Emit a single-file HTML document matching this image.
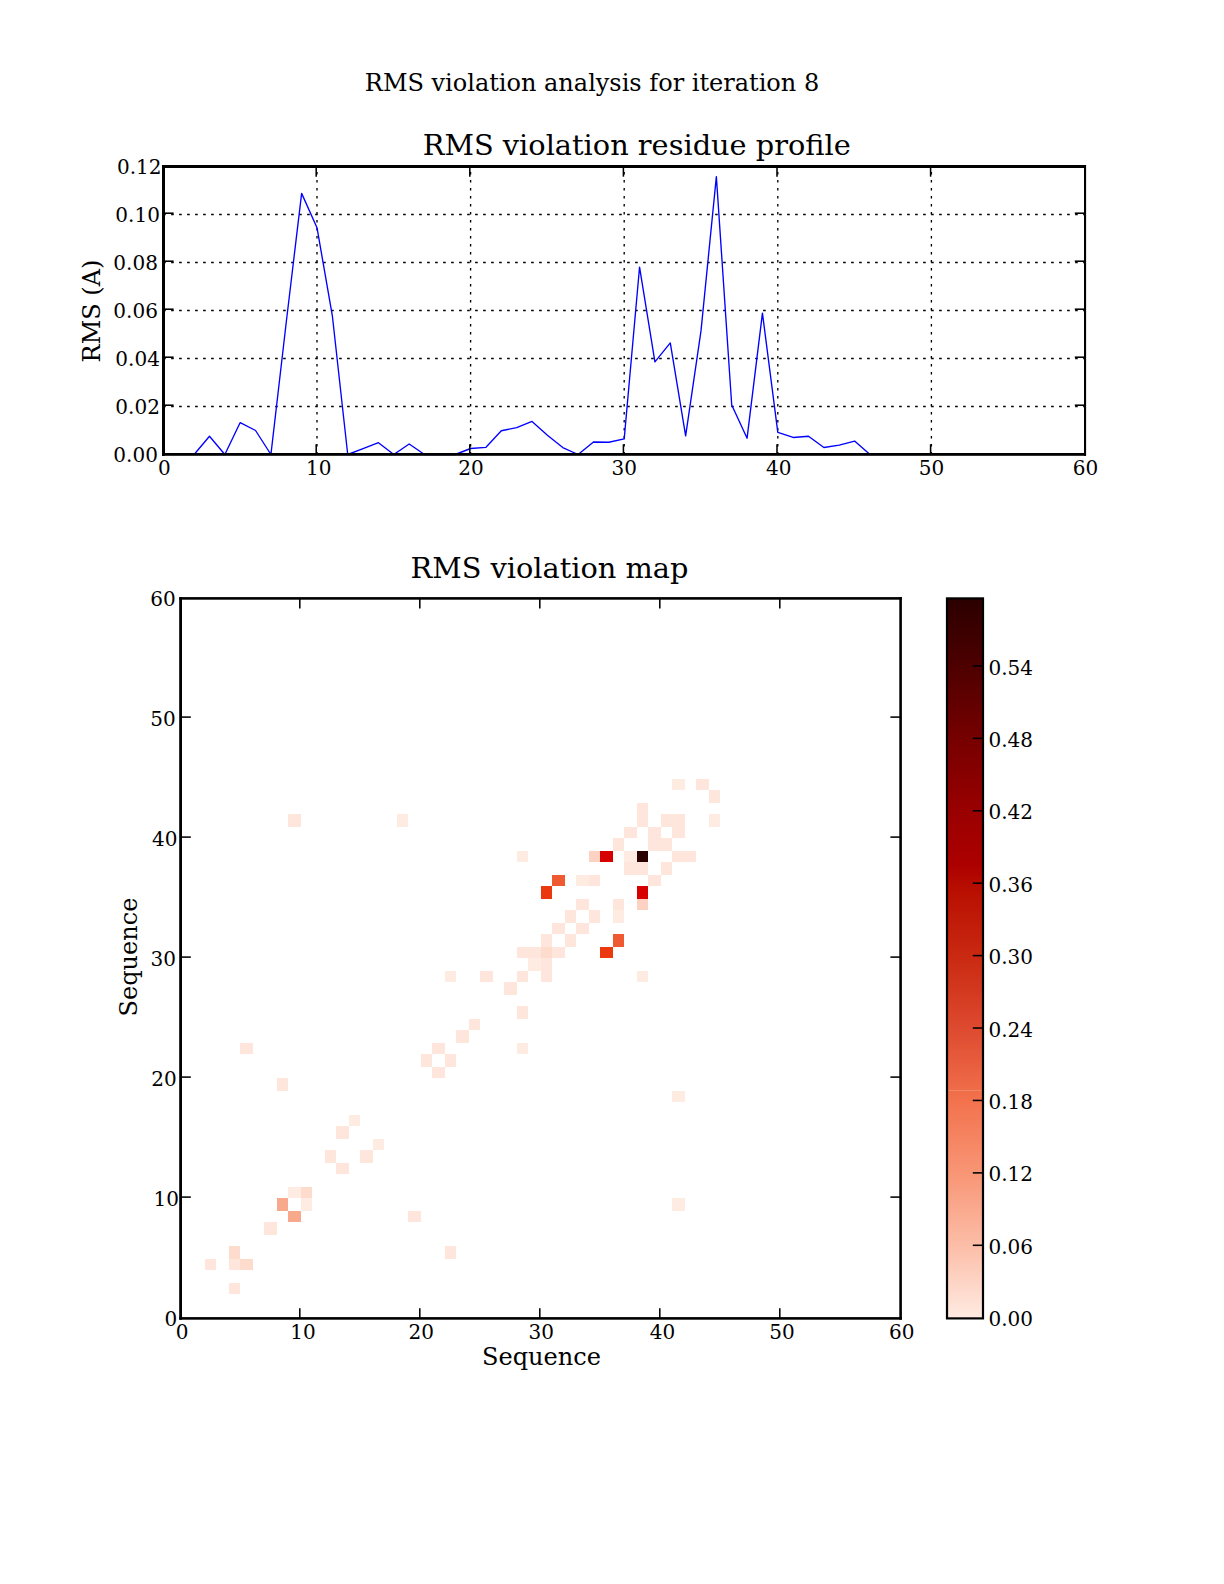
<!DOCTYPE html>
<html lang="en"><head><meta charset="utf-8"><title>RMS violation analysis for iteration 8</title>
<style>
html,body{margin:0;padding:0;background:#fff;}
body{width:1224px;height:1584px;overflow:hidden;}
svg{display:block;font-family:'DejaVu Serif','Liberation Serif',serif;fill:#000;}
svg text{fill:#000;}
</style></head><body>
<svg width="1224" height="1584" viewBox="0 0 1224 1584">
<rect width="1224" height="1584" fill="#fff"/>
<g id="top-axes">
<line x1="317.00" y1="454.5" x2="317.00" y2="166.5" stroke="#000" stroke-width="1.35" stroke-dasharray="2.6 5.4" stroke-dashoffset="0.05" fill="none"/>
<line x1="470.60" y1="454.5" x2="470.60" y2="166.5" stroke="#000" stroke-width="1.35" stroke-dasharray="2.6 5.4" stroke-dashoffset="0.05" fill="none"/>
<line x1="624.20" y1="454.5" x2="624.20" y2="166.5" stroke="#000" stroke-width="1.35" stroke-dasharray="2.6 5.4" stroke-dashoffset="0.05" fill="none"/>
<line x1="777.80" y1="454.5" x2="777.80" y2="166.5" stroke="#000" stroke-width="1.35" stroke-dasharray="2.6 5.4" stroke-dashoffset="0.05" fill="none"/>
<line x1="931.40" y1="454.5" x2="931.40" y2="166.5" stroke="#000" stroke-width="1.35" stroke-dasharray="2.6 5.4" stroke-dashoffset="0.05" fill="none"/>
<line x1="163.4" y1="406.50" x2="1085.0" y2="406.50" stroke="#000" stroke-width="1.35" stroke-dasharray="2.6 5.4" stroke-dashoffset="0.25" fill="none"/>
<line x1="163.4" y1="358.50" x2="1085.0" y2="358.50" stroke="#000" stroke-width="1.35" stroke-dasharray="2.6 5.4" stroke-dashoffset="0.25" fill="none"/>
<line x1="163.4" y1="310.50" x2="1085.0" y2="310.50" stroke="#000" stroke-width="1.35" stroke-dasharray="2.6 5.4" stroke-dashoffset="0.25" fill="none"/>
<line x1="163.4" y1="262.50" x2="1085.0" y2="262.50" stroke="#000" stroke-width="1.35" stroke-dasharray="2.6 5.4" stroke-dashoffset="0.25" fill="none"/>
<line x1="163.4" y1="214.50" x2="1085.0" y2="214.50" stroke="#000" stroke-width="1.35" stroke-dasharray="2.6 5.4" stroke-dashoffset="0.25" fill="none"/>
<polyline points="194.12,454.50 209.48,436.26 224.84,454.50 240.20,422.58 255.56,430.50 270.92,454.50 286.28,322.02 301.64,193.38 317.00,227.70 332.36,315.78 347.72,454.50 363.08,448.74 378.44,442.74 393.80,454.50 409.16,443.94 424.52,454.50 439.88,454.50 455.24,454.50 470.60,448.50 485.96,447.30 501.32,430.74 516.68,427.62 532.04,421.38 547.40,435.30 562.76,447.54 578.12,454.50 593.48,442.02 608.84,442.26 624.20,438.90 639.56,267.06 654.92,361.86 670.28,342.90 685.64,435.78 701.00,330.90 716.36,176.58 731.72,405.06 747.08,438.18 762.44,313.14 777.80,432.42 793.16,437.46 808.52,436.26 823.88,447.54 839.24,445.14 854.60,441.06 869.96,454.50" fill="none" stroke="#0000ff" stroke-width="1.35" stroke-linejoin="round"/>
<line x1="316.20" y1="454.5" x2="316.20" y2="444.3" stroke="#000" stroke-width="1.55"/>
<line x1="316.20" y1="166.5" x2="316.20" y2="176.7" stroke="#000" stroke-width="1.55"/>
<line x1="469.80" y1="454.5" x2="469.80" y2="444.3" stroke="#000" stroke-width="1.55"/>
<line x1="469.80" y1="166.5" x2="469.80" y2="176.7" stroke="#000" stroke-width="1.55"/>
<line x1="623.40" y1="454.5" x2="623.40" y2="444.3" stroke="#000" stroke-width="1.55"/>
<line x1="623.40" y1="166.5" x2="623.40" y2="176.7" stroke="#000" stroke-width="1.55"/>
<line x1="777.00" y1="454.5" x2="777.00" y2="444.3" stroke="#000" stroke-width="1.55"/>
<line x1="777.00" y1="166.5" x2="777.00" y2="176.7" stroke="#000" stroke-width="1.55"/>
<line x1="930.60" y1="454.5" x2="930.60" y2="444.3" stroke="#000" stroke-width="1.55"/>
<line x1="930.60" y1="166.5" x2="930.60" y2="176.7" stroke="#000" stroke-width="1.55"/>
<line x1="163.4" y1="405.20" x2="173.6" y2="405.20" stroke="#000" stroke-width="1.55"/>
<line x1="1085.0" y1="405.20" x2="1074.8" y2="405.20" stroke="#000" stroke-width="1.55"/>
<line x1="163.4" y1="357.20" x2="173.6" y2="357.20" stroke="#000" stroke-width="1.55"/>
<line x1="1085.0" y1="357.20" x2="1074.8" y2="357.20" stroke="#000" stroke-width="1.55"/>
<line x1="163.4" y1="309.20" x2="173.6" y2="309.20" stroke="#000" stroke-width="1.55"/>
<line x1="1085.0" y1="309.20" x2="1074.8" y2="309.20" stroke="#000" stroke-width="1.55"/>
<line x1="163.4" y1="261.20" x2="173.6" y2="261.20" stroke="#000" stroke-width="1.55"/>
<line x1="1085.0" y1="261.20" x2="1074.8" y2="261.20" stroke="#000" stroke-width="1.55"/>
<line x1="163.4" y1="213.20" x2="173.6" y2="213.20" stroke="#000" stroke-width="1.55"/>
<line x1="1085.0" y1="213.20" x2="1074.8" y2="213.20" stroke="#000" stroke-width="1.55"/>
<rect x="162" y="165" width="924" height="3" fill="#000"/>
<rect x="162" y="453" width="924" height="2.8" fill="#000"/>
<rect x="162" y="165" width="3" height="290.8" fill="#000"/>
<rect x="1084" y="165" width="2.1" height="290.8" fill="#000"/>
<text x="164.40" y="474.7" font-size="20" text-anchor="middle">0</text>
<text x="318.80" y="474.7" font-size="20" text-anchor="middle">10</text>
<text x="471.10" y="474.7" font-size="20" text-anchor="middle">20</text>
<text x="624.20" y="474.7" font-size="20" text-anchor="middle">30</text>
<text x="778.80" y="474.7" font-size="20" text-anchor="middle">40</text>
<text x="931.40" y="474.7" font-size="20" text-anchor="middle">50</text>
<text x="1085.60" y="474.7" font-size="20" text-anchor="middle">60</text>
<text x="157.90" y="461.80" font-size="20" text-anchor="end">0.00</text>
<text x="159.90" y="413.80" font-size="20" text-anchor="end">0.02</text>
<text x="159.90" y="365.80" font-size="20" text-anchor="end">0.04</text>
<text x="157.90" y="317.80" font-size="20" text-anchor="end">0.06</text>
<text x="157.90" y="269.80" font-size="20" text-anchor="end">0.08</text>
<text x="159.90" y="221.80" font-size="20" text-anchor="end">0.10</text>
<text x="161.50" y="173.80" font-size="20" text-anchor="end">0.12</text>
</g>
<text x="592" y="90.8" font-size="24" text-anchor="middle">RMS violation analysis for iteration 8</text>
<text x="636.8" y="155" font-size="28.8" text-anchor="middle">RMS violation residue profile</text>
<text transform="translate(100,311) rotate(-90)" font-size="24" text-anchor="middle">RMS (A)</text>
<g id="heatmap" shape-rendering="crispEdges">
<rect x="277" y="1078" width="11" height="13" fill="#fee6dc"/>
<rect x="349" y="1115" width="11" height="11" fill="#feebe2"/>
<rect x="336" y="1126" width="13" height="13" fill="#fee6dc"/>
<rect x="373" y="1139" width="11" height="11" fill="#feebe2"/>
<rect x="325" y="1150" width="11" height="13" fill="#fee6dc"/>
<rect x="360" y="1150" width="13" height="13" fill="#fee6dc"/>
<rect x="336" y="1163" width="13" height="11" fill="#fee6dc"/>
<rect x="288" y="1187" width="13" height="11" fill="#feebe2"/>
<rect x="301" y="1187" width="11" height="11" fill="#fddccd"/>
<rect x="277" y="1198" width="11" height="13" fill="#f8a98b"/>
<rect x="301" y="1198" width="11" height="13" fill="#feebe2"/>
<rect x="288" y="1211" width="13" height="11" fill="#f8a98b"/>
<rect x="408" y="1211" width="13" height="11" fill="#fee6dc"/>
<rect x="264" y="1222" width="13" height="13" fill="#fee6dc"/>
<rect x="229" y="1246" width="11" height="13" fill="#fddccd"/>
<rect x="205" y="1259" width="11" height="11" fill="#fee6dc"/>
<rect x="229" y="1259" width="11" height="11" fill="#fee6dc"/>
<rect x="240" y="1259" width="13" height="11" fill="#fddccd"/>
<rect x="229" y="1283" width="11" height="11" fill="#fee6dc"/>
<rect x="445" y="1246" width="11" height="13" fill="#fee6dc"/>
<rect x="672" y="1091" width="13" height="11" fill="#feebe2"/>
<rect x="672" y="1198" width="13" height="13" fill="#feebe2"/>
<rect x="240" y="1043" width="13" height="11" fill="#fee6dc"/>
<rect x="613" y="838" width="11" height="13" fill="#fee6dc"/>
<rect x="648" y="838" width="13" height="13" fill="#fee6dc"/>
<rect x="661" y="838" width="11" height="13" fill="#fee6dc"/>
<rect x="517" y="851" width="11" height="11" fill="#feebe2"/>
<rect x="589" y="851" width="11" height="11" fill="#fed2c2"/>
<rect x="600" y="851" width="13" height="11" fill="#d60000"/>
<rect x="624" y="851" width="13" height="11" fill="#feebe2"/>
<rect x="637" y="851" width="11" height="11" fill="#2a0000"/>
<rect x="672" y="851" width="13" height="11" fill="#fee6dc"/>
<rect x="685" y="851" width="11" height="11" fill="#fee6dc"/>
<rect x="624" y="862" width="13" height="13" fill="#fee6dc"/>
<rect x="637" y="862" width="11" height="13" fill="#fee6dc"/>
<rect x="661" y="862" width="11" height="13" fill="#fee6dc"/>
<rect x="552" y="875" width="13" height="11" fill="#f05a32"/>
<rect x="576" y="875" width="13" height="11" fill="#feebe2"/>
<rect x="589" y="875" width="11" height="11" fill="#fee6dc"/>
<rect x="648" y="875" width="13" height="11" fill="#fee6dc"/>
<rect x="541" y="886" width="11" height="13" fill="#eb380f"/>
<rect x="637" y="886" width="11" height="13" fill="#d60000"/>
<rect x="576" y="899" width="13" height="11" fill="#fee6dc"/>
<rect x="613" y="899" width="11" height="11" fill="#fee6dc"/>
<rect x="637" y="899" width="11" height="11" fill="#fed2c2"/>
<rect x="565" y="910" width="11" height="13" fill="#fee6dc"/>
<rect x="589" y="910" width="11" height="13" fill="#fee6dc"/>
<rect x="613" y="910" width="11" height="13" fill="#feebe2"/>
<rect x="552" y="923" width="13" height="11" fill="#fee6dc"/>
<rect x="576" y="923" width="13" height="11" fill="#fee6dc"/>
<rect x="541" y="934" width="11" height="13" fill="#fee6dc"/>
<rect x="565" y="934" width="11" height="13" fill="#fee6dc"/>
<rect x="613" y="934" width="11" height="13" fill="#f05a32"/>
<rect x="517" y="947" width="11" height="11" fill="#fee6dc"/>
<rect x="528" y="947" width="13" height="11" fill="#fee6dc"/>
<rect x="541" y="947" width="11" height="11" fill="#fddccd"/>
<rect x="552" y="947" width="13" height="11" fill="#fee6dc"/>
<rect x="600" y="947" width="13" height="11" fill="#eb380f"/>
<rect x="528" y="958" width="13" height="13" fill="#feebe2"/>
<rect x="541" y="958" width="11" height="13" fill="#fee6dc"/>
<rect x="445" y="971" width="11" height="11" fill="#feebe2"/>
<rect x="480" y="971" width="13" height="11" fill="#fee6dc"/>
<rect x="517" y="971" width="11" height="11" fill="#fee6dc"/>
<rect x="541" y="971" width="11" height="11" fill="#fee6dc"/>
<rect x="637" y="971" width="11" height="11" fill="#feebe2"/>
<rect x="504" y="982" width="13" height="13" fill="#fee6dc"/>
<rect x="517" y="1006" width="11" height="13" fill="#fee6dc"/>
<rect x="469" y="1019" width="11" height="11" fill="#fee6dc"/>
<rect x="456" y="1030" width="13" height="13" fill="#fee6dc"/>
<rect x="432" y="1043" width="13" height="11" fill="#fee6dc"/>
<rect x="517" y="1043" width="11" height="11" fill="#feebe2"/>
<rect x="421" y="1054" width="11" height="13" fill="#fee6dc"/>
<rect x="445" y="1054" width="11" height="13" fill="#fee6dc"/>
<rect x="432" y="1067" width="13" height="11" fill="#fee6dc"/>
<rect x="672" y="779" width="13" height="11" fill="#feebe2"/>
<rect x="696" y="779" width="13" height="11" fill="#fee6dc"/>
<rect x="709" y="790" width="11" height="13" fill="#fee6dc"/>
<rect x="637" y="803" width="11" height="11" fill="#fee6dc"/>
<rect x="637" y="814" width="11" height="13" fill="#fee6dc"/>
<rect x="661" y="814" width="11" height="13" fill="#fee6dc"/>
<rect x="672" y="814" width="13" height="13" fill="#fee6dc"/>
<rect x="709" y="814" width="11" height="13" fill="#feebe2"/>
<rect x="624" y="827" width="13" height="11" fill="#fee6dc"/>
<rect x="648" y="827" width="13" height="11" fill="#fee6dc"/>
<rect x="672" y="827" width="13" height="11" fill="#fee6dc"/>
<rect x="288" y="814" width="13" height="13" fill="#fee6dc"/>
<rect x="397" y="814" width="11" height="13" fill="#feebe2"/>
</g>
<g id="map-axes">
<line x1="299.80" y1="1318.4" x2="299.80" y2="1308.2" stroke="#000" stroke-width="1.55"/>
<line x1="299.80" y1="598.4" x2="299.80" y2="608.6" stroke="#000" stroke-width="1.55"/>
<line x1="180.6" y1="1197.10" x2="190.79999999999998" y2="1197.10" stroke="#000" stroke-width="1.55"/>
<line x1="900.6" y1="1197.10" x2="890.4" y2="1197.10" stroke="#000" stroke-width="1.55"/>
<line x1="419.80" y1="1318.4" x2="419.80" y2="1308.2" stroke="#000" stroke-width="1.55"/>
<line x1="419.80" y1="598.4" x2="419.80" y2="608.6" stroke="#000" stroke-width="1.55"/>
<line x1="180.6" y1="1077.10" x2="190.79999999999998" y2="1077.10" stroke="#000" stroke-width="1.55"/>
<line x1="900.6" y1="1077.10" x2="890.4" y2="1077.10" stroke="#000" stroke-width="1.55"/>
<line x1="539.80" y1="1318.4" x2="539.80" y2="1308.2" stroke="#000" stroke-width="1.55"/>
<line x1="539.80" y1="598.4" x2="539.80" y2="608.6" stroke="#000" stroke-width="1.55"/>
<line x1="180.6" y1="957.10" x2="190.79999999999998" y2="957.10" stroke="#000" stroke-width="1.55"/>
<line x1="900.6" y1="957.10" x2="890.4" y2="957.10" stroke="#000" stroke-width="1.55"/>
<line x1="659.80" y1="1318.4" x2="659.80" y2="1308.2" stroke="#000" stroke-width="1.55"/>
<line x1="659.80" y1="598.4" x2="659.80" y2="608.6" stroke="#000" stroke-width="1.55"/>
<line x1="180.6" y1="837.10" x2="190.79999999999998" y2="837.10" stroke="#000" stroke-width="1.55"/>
<line x1="900.6" y1="837.10" x2="890.4" y2="837.10" stroke="#000" stroke-width="1.55"/>
<line x1="779.80" y1="1318.4" x2="779.80" y2="1308.2" stroke="#000" stroke-width="1.55"/>
<line x1="779.80" y1="598.4" x2="779.80" y2="608.6" stroke="#000" stroke-width="1.55"/>
<line x1="180.6" y1="717.10" x2="190.79999999999998" y2="717.10" stroke="#000" stroke-width="1.55"/>
<line x1="900.6" y1="717.10" x2="890.4" y2="717.10" stroke="#000" stroke-width="1.55"/>
<rect x="179.2" y="597.1" width="722.7" height="2.6" fill="#000"/>
<rect x="179.2" y="1317.1" width="722.7" height="2.6" fill="#000"/>
<rect x="179.2" y="597.1" width="2.8" height="722.6" fill="#000"/>
<rect x="899.3" y="597.1" width="2.6" height="722.6" fill="#000"/>
<text x="182.10" y="1339.2" font-size="20" text-anchor="middle">0</text>
<text x="177.30" y="1325.70" font-size="20" text-anchor="end">0</text>
<text x="303.00" y="1339.2" font-size="20" text-anchor="middle">10</text>
<text x="179.00" y="1205.70" font-size="20" text-anchor="end">10</text>
<text x="421.20" y="1339.2" font-size="20" text-anchor="middle">20</text>
<text x="176.80" y="1085.70" font-size="20" text-anchor="end">20</text>
<text x="541.20" y="1339.2" font-size="20" text-anchor="middle">30</text>
<text x="176.00" y="965.70" font-size="20" text-anchor="end">30</text>
<text x="662.50" y="1339.2" font-size="20" text-anchor="middle">40</text>
<text x="177.50" y="845.70" font-size="20" text-anchor="end">40</text>
<text x="782.00" y="1339.2" font-size="20" text-anchor="middle">50</text>
<text x="175.70" y="725.70" font-size="20" text-anchor="end">50</text>
<text x="901.70" y="1339.2" font-size="20" text-anchor="middle">60</text>
<text x="175.70" y="605.70" font-size="20" text-anchor="end">60</text>
</g>
<text x="549.5" y="577.7" font-size="28.8" text-anchor="middle">RMS violation map</text>
<text x="541.5" y="1365.4" font-size="24" text-anchor="middle">Sequence</text>
<text transform="translate(137.2,957) rotate(-90)" font-size="24" text-anchor="middle">Sequence</text>
<defs><linearGradient id="cb" x1="0" y1="1" x2="0" y2="0">
<stop offset="0.0" stop-color="rgb(255,235,226)"/>
<stop offset="0.1" stop-color="rgb(252,190,168)"/>
<stop offset="0.2" stop-color="rgb(248,150,118)"/>
<stop offset="0.3" stop-color="rgb(243,115,78)"/>
<stop offset="0.4" stop-color="rgb(222,75,48)"/>
<stop offset="0.5" stop-color="rgb(202,42,18)"/>
<stop offset="0.6" stop-color="rgb(183,13,0)"/>
<stop offset="0.63" stop-color="rgb(172,0,0)"/>
<stop offset="0.7" stop-color="rgb(155,0,0)"/>
<stop offset="0.8" stop-color="rgb(120,0,0)"/>
<stop offset="0.9" stop-color="rgb(80,0,0)"/>
<stop offset="1.0" stop-color="rgb(43,0,0)"/>
</linearGradient></defs>
<rect x="947.0" y="598.4" width="36.0" height="720.0000000000001" fill="url(#cb)"/>
<rect x="947.0" y="1090" width="36.0" height="1" fill="#fff" opacity="0.18"/>
<rect x="947.0" y="598.4" width="36.0" height="720.0000000000001" fill="none" stroke="#000" stroke-width="2.2"/>
<text x="988.5" y="1326.33" font-size="20">0.00</text>
<line x1="983.0" y1="1245.30" x2="972.8" y2="1245.30" stroke="#000" stroke-width="1.55"/>
<text x="988.5" y="1253.90" font-size="20">0.06</text>
<line x1="983.0" y1="1172.88" x2="972.8" y2="1172.88" stroke="#000" stroke-width="1.55"/>
<text x="988.5" y="1181.48" font-size="20">0.12</text>
<line x1="983.0" y1="1100.45" x2="972.8" y2="1100.45" stroke="#000" stroke-width="1.55"/>
<text x="988.5" y="1109.05" font-size="20">0.18</text>
<line x1="983.0" y1="1028.03" x2="972.8" y2="1028.03" stroke="#000" stroke-width="1.55"/>
<text x="988.5" y="1036.63" font-size="20">0.24</text>
<line x1="983.0" y1="955.60" x2="972.8" y2="955.60" stroke="#000" stroke-width="1.55"/>
<text x="988.5" y="964.20" font-size="20">0.30</text>
<line x1="983.0" y1="883.17" x2="972.8" y2="883.17" stroke="#000" stroke-width="1.55"/>
<text x="988.5" y="891.77" font-size="20">0.36</text>
<line x1="983.0" y1="810.75" x2="972.8" y2="810.75" stroke="#000" stroke-width="1.55"/>
<text x="988.5" y="819.35" font-size="20">0.42</text>
<line x1="983.0" y1="738.32" x2="972.8" y2="738.32" stroke="#000" stroke-width="1.55"/>
<text x="988.5" y="746.92" font-size="20">0.48</text>
<line x1="983.0" y1="665.90" x2="972.8" y2="665.90" stroke="#000" stroke-width="1.55"/>
<text x="988.5" y="674.50" font-size="20">0.54</text>
</svg>
</body></html>
